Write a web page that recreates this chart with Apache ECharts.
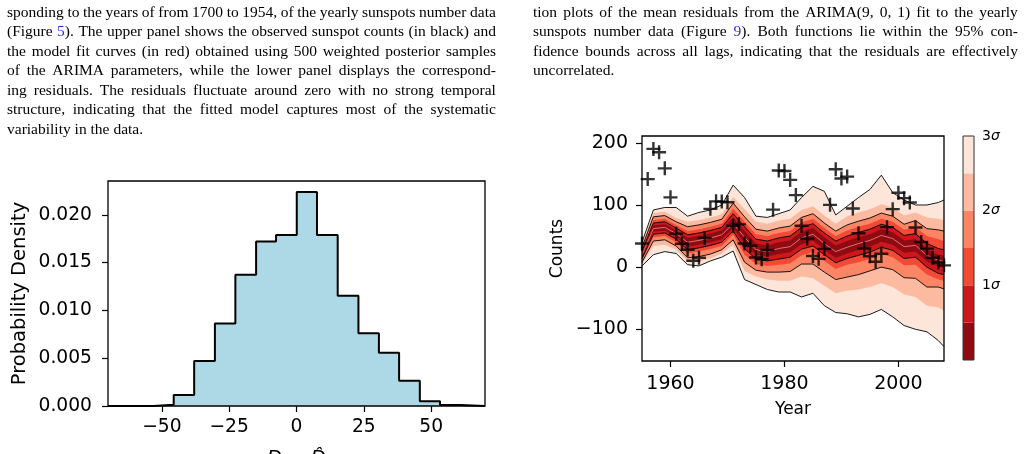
<!DOCTYPE html>
<html>
<head>
<meta charset="utf-8">
<script src="https://cdn.jsdelivr.net/npm/echarts@6.0.0/dist/echarts.min.js"></script>
<style>
  html, body { margin: 0; padding: 0; background: #fff; }
  #page { position: relative; width: 1025px; height: 454px; overflow: hidden; }
  #chart { position: absolute; left: 0; top: 0; width: 1025px; height: 454px; }
  .col { position: absolute; top: 1.5px; font-family: "Liberation Serif", serif; font-size: 15.5px; line-height: 19.5px; color: #000; }
  .ln { display: flex; justify-content: space-between; white-space: nowrap; }
  .ln.last { justify-content: flex-start; gap: 3.9px; }
  .ref { color: #2b2bd6; }
</style>
</head>
<body>
<div id="page">
  <div id="chart"></div>
  <div class="col" id="leftText" style="left:7px;width:489px;"></div>
  <div class="col" id="rightText" style="left:533px;width:485px;"></div>
</div>
<script>
// paragraph lines, as they break on the page
const leftLines = [
  "sponding to the years of from 1700 to 1954, of the yearly sunspots number data",
  "(Figure [5]). The upper panel shows the observed sunspot counts (in black) and",
  "the model fit curves (in red) obtained using 500 weighted posterior samples",
  "of the ARIMA parameters, while the lower panel displays the correspond-",
  "ing residuals. The residuals fluctuate around zero with no strong temporal",
  "structure, indicating that the fitted model captures most of the systematic",
  "variability in the data.",
];
const rightLines = [
  "tion plots of the mean residuals from the ARIMA(9, 0, 1) fit to the yearly",
  "sunspots number data (Figure [9]). Both functions lie within the 95% con-",
  "fidence bounds across all lags, indicating that the residuals are effectively",
  "uncorrelated.",
];

// histogram of residuals
const histEdges = [-53.2, -45.6, -38.0, -30.3, -22.7, -15.0, -7.6, 0.1, 7.6, 15.3, 23.0, 30.6, 38.1, 45.8, 53.3, 61.0];
const histDensity = [0.00014, 0.00115, 0.00471, 0.00862, 0.01372, 0.01721, 0.01787, 0.02237, 0.01787, 0.01152, 0.00761, 0.00558, 0.00265, 0.00049, 0.0001];
const histTicksX = [-50, -25, 0, 25, 50];
const histTicksY = [0, 0.005, 0.01, 0.015, 0.02];

// observed yearly sunspot numbers
const obsYears = [1955, 1956, 1957, 1958, 1959, 1960, 1961, 1962, 1963, 1964, 1965, 1966, 1967, 1968, 1969, 1970, 1971, 1972, 1973, 1974, 1975, 1976, 1977, 1978, 1979, 1980, 1981, 1982, 1983, 1984, 1985, 1986, 1987, 1988, 1989, 1990, 1991, 1992, 1993, 1994, 1995, 1996, 1997, 1998, 1999, 2000, 2001, 2002, 2003, 2004, 2005, 2006, 2007, 2008];
const obsCounts = [38.0, 141.7, 190.2, 184.8, 159.0, 112.3, 53.9, 37.6, 27.9, 10.2, 15.1, 47.0, 93.8, 105.9, 105.5, 104.5, 66.6, 68.9, 38.0, 34.5, 15.5, 12.6, 27.5, 92.5, 155.4, 154.6, 140.4, 115.9, 66.6, 45.9, 17.9, 13.4, 29.4, 100.2, 157.6, 142.6, 145.7, 94.3, 54.6, 29.9, 17.5, 8.6, 21.5, 64.3, 93.3, 119.6, 111.0, 104.0, 63.7, 40.4, 29.8, 15.2, 7.5, 2.9];

// posterior fit bands (0.5 sigma steps)
const bandYears = [1955, 1957, 1959, 1961, 1963, 1965, 1967, 1969, 1971, 1973, 1975, 1977, 1979, 1981, 1983, 1985, 1987, 1989, 1991, 1993, 1995, 1997, 1999, 2001, 2003, 2005, 2007, 2008];
const fitMedian = [20, 62, 64, 54, 40, 43, 47, 52, 70, 48, 28, 25, 30, 33, 47, 53, 38, 25, 32, 38, 43, 51, 46, 33, 35, 19, 11, 9];
const up05 = [23, 67, 69, 59, 47, 50, 54, 59, 80, 58, 38, 35, 40, 43, 57, 63, 48, 35, 42, 48, 53, 61, 56, 43, 45, 29, 20, 19];
const up10 = [26, 71, 73, 63, 52, 55, 59, 64, 86, 65, 45, 42, 47, 50, 64, 70, 55, 42, 50, 56, 61, 69, 64, 51, 54, 38, 30, 28];
const up15 = [29, 76, 78, 68, 58, 61, 65, 70, 94, 73, 53, 50, 55, 58, 72, 78, 63, 50, 59, 65, 70, 78, 73, 60, 64, 50, 45, 42];
const up20 = [32, 81, 83, 73, 65, 68, 72, 77, 103, 81, 61, 58, 63, 66, 80, 86, 71, 58, 68, 74, 79, 87, 82, 69, 75, 62, 60, 58];
const up25 = [35, 87, 89, 79, 73, 76, 80, 85, 113, 93, 73, 70, 75, 78, 92, 98, 83, 70, 82, 88, 93, 101, 96, 83, 88, 80, 78, 76];
const up30 = [40, 92, 96, 96, 82, 88, 92, 100, 132, 112, 82, 80, 86, 92, 112, 130, 122, 84, 98, 112, 125, 148, 120, 108, 100, 100, 104, 108];
const lo05 = [17, 57, 59, 49, 33, 36, 40, 45, 63, 38, 20, 17, 21, 24, 37, 43, 28, 15, 22, 28, 33, 41, 36, 23, 25, 9, 1, -1];
const lo10 = [14, 53, 55, 45, 28, 31, 35, 40, 58, 30, 13, 10, 13, 16, 29, 34, 20, 7, 14, 19, 24, 32, 27, 14, 16, 0, -10, -12];
const lo15 = [11, 48, 50, 40, 22, 25, 29, 34, 52, 20, 5, 2, 4, 6, 19, 24, 10, -3, 4, 8, 13, 21, 16, 3, 4, -12, -20, -22];
const lo20 = [8, 42, 44, 34, 15, 17, 21, 28, 44, 8, -5, -8, -8, -7, 5, 5, -8, -20, -16, -12, -6, 0, -4, -17, -18, -32, -32, -35];
const lo25 = [5, 34, 36, 28, 9, 9, 14, 22, 36, -6, -15, -20, -22, -22, -15, -18, -30, -42, -38, -36, -32, -26, -32, -44, -48, -62, -65, -70];
const lo30 = [2, 20, 25, 22, 4, 2, 10, 16, 26, -20, -28, -36, -40, -40, -48, -42, -62, -73, -75, -80, -76, -68, -80, -94, -100, -104, -118, -128];

const fitTicksX = [1960, 1980, 2000];
const fitTicksY = [-100, 0, 100, 200];
const sigmaTicks = [1, 2, 3];

// Reds, darkest (0-0.5 sigma) to lightest (2.5-3 sigma)
const sigmaColors = ["#900a12", "#cb181d", "#f34a36", "#fc8565", "#fcbba1", "#fee5da"];

function renderColumn(el, lines) {
  lines.forEach((line, i) => {
    const row = document.createElement("div");
    row.className = i === lines.length - 1 ? "ln last" : "ln";
    line.split(" ").forEach((word) => {
      const span = document.createElement("span");
      span.innerHTML = word.replace(/\[(\d)\]/, '<span class="ref">$1</span>');
      row.appendChild(span);
    });
    el.appendChild(row);
  });
}
renderColumn(document.getElementById("leftText"), leftLines);
renderColumn(document.getElementById("rightText"), rightLines);

const font = "DejaVu Sans";
const minusSign = (v) => String(v).replace("-", "\u2212");
const plusSymbol = "path://M8.3,0H11.7V8.3H20V11.7H11.7V20H8.3V11.7H0V8.3H8.3Z";

const histPoints = [[-70, 0]];
histEdges.forEach((e, i) => histPoints.push([e, i < histDensity.length ? histDensity[i] : 0]));
histPoints.push([70, 0]);

// each boundary fills down to the axis bottom; later layers paint over earlier ones
const layers = [
  [up30, 5], [up25, 4], [up20, 3], [up15, 2], [up10, 1], [up05, 0],
  [lo05, 1], [lo10, 2], [lo15, 3], [lo20, 4], [lo25, 5], [lo30, -1],
];
const bandSeries = layers.map(([values, k]) => ({
  type: "line", xAxisIndex: 1, yAxisIndex: 1, symbol: "none", silent: true, z: 2,
  lineStyle: { width: 0, opacity: 0 },
  areaStyle: { color: k < 0 ? "#ffffff" : sigmaColors[k], opacity: 1, origin: "start" },
  data: bandYears.map((y, j) => [y, values[j]]),
}));

function contourLine(values, color, width) {
  return {
    type: "line", xAxisIndex: 1, yAxisIndex: 1, symbol: "none", silent: true, z: 3,
    lineStyle: { color: color, width: width },
    data: bandYears.map((y, k) => [y, values[k]]),
  };
}

const tickLabel = { color: "#000", fontFamily: font };
const hiddenLine = { show: false, onZero: false };

const chart = echarts.init(document.getElementById("chart"), null, { renderer: "canvas" });
chart.setOption({
  animation: false,
  backgroundColor: "transparent",
  grid: [
    { left: 108, top: 181, width: 377, height: 225, outerBoundsMode: "none", show: true, borderColor: "#000", borderWidth: 1.3, z: 10 },
    { left: 642, top: 136, width: 302, height: 225, outerBoundsMode: "none", show: true, borderColor: "#000", borderWidth: 1.3, z: 10 },
    { left: 963, top: 136, width: 11, height: 224, outerBoundsMode: "none", show: true, borderColor: "#333", borderWidth: 1, z: 10 },
  ],
  xAxis: [
    {
      gridIndex: 0, type: "value", min: -70, max: 70,
      axisLine: hiddenLine, splitLine: { show: false },
      axisTick: { customValues: histTicksX, length: 6, lineStyle: { color: "#000", width: 1.2 } },
      axisLabel: { ...tickLabel, customValues: histTicksX, fontSize: 18.7, margin: 12, formatter: minusSign },
      name: "D \u2212 D\u0302", nameLocation: "middle", nameGap: 43,
      nameTextStyle: { color: "#000", fontFamily: font, fontSize: 19.5, fontStyle: "italic" },
    },
    {
      gridIndex: 1, type: "value", min: 1955, max: 2008,
      axisLine: hiddenLine, splitLine: { show: false },
      axisTick: { customValues: fitTicksX, length: 6, lineStyle: { color: "#000", width: 1.2 } },
      axisLabel: { ...tickLabel, customValues: fitTicksX, fontSize: 19, margin: 14, formatter: (v) => String(v) },
      name: "Year", nameLocation: "middle", nameGap: 40,
      nameTextStyle: { color: "#000", fontFamily: font, fontSize: 17 },
    },
    {
      gridIndex: 2, type: "category", data: [""], show: false,
    },
  ],
  yAxis: [
    {
      gridIndex: 0, type: "value", min: 0, max: 0.02353,
      axisLine: hiddenLine, splitLine: { show: false },
      axisTick: { customValues: histTicksY, length: 6, lineStyle: { color: "#000", width: 1.2 } },
      axisLabel: { ...tickLabel, customValues: histTicksY, fontSize: 18.7, margin: 16, formatter: (v) => v.toFixed(3) },
      name: "Probability Density", nameLocation: "middle", nameGap: 78,
      nameTextStyle: { color: "#000", fontFamily: font, fontSize: 19.5 },
    },
    {
      gridIndex: 1, type: "value", min: -151, max: 211,
      axisLine: hiddenLine, splitLine: { show: false },
      axisTick: { customValues: fitTicksY, length: 6, lineStyle: { color: "#000", width: 1.2 } },
      axisLabel: { ...tickLabel, customValues: fitTicksY, fontSize: 19, margin: 14, formatter: minusSign },
      name: "Counts", nameLocation: "middle", nameGap: 76,
      nameTextStyle: { color: "#000", fontFamily: font, fontSize: 17 },
    },
    {
      gridIndex: 2, type: "value", min: 0, max: 3, position: "right",
      axisLine: hiddenLine, splitLine: { show: false },
      axisTick: { customValues: sigmaTicks, inside: true, length: 6, lineStyle: { color: "#000", width: 1.2 } },
      axisLabel: {
        ...tickLabel, customValues: sigmaTicks, fontSize: 14, margin: 8,
        formatter: (v) => v + "{s|\u03c3}",
        rich: { s: { fontFamily: font, fontSize: 14, fontStyle: "italic", color: "#000" } },
      },
    },
  ],
  series: [
    {
      type: "line", xAxisIndex: 0, yAxisIndex: 0, step: "end", symbol: "none", silent: true,
      lineStyle: { color: "#000", width: 2 },
      areaStyle: { color: "#add8e6", opacity: 1 },
      data: histPoints,
    },
    ...bandSeries,
    contourLine(fitMedian, "#f08a8a", 0.8),
    contourLine(lo10, "#000", 0.9),
    contourLine(up10, "#000", 0.9),
    contourLine(lo20, "#000", 0.9),
    contourLine(up20, "#000", 0.9),
    contourLine(lo30, "#000", 0.9),
    contourLine(up30, "#000", 0.9),
    {
      type: "scatter", xAxisIndex: 1, yAxisIndex: 1, symbol: plusSymbol, symbolSize: 14, z: 5,
      itemStyle: { color: "#000" },
      data: obsYears.map((y, k) => [y, obsCounts[k]]),
    },
    ...sigmaColors.map((c) => ({
      type: "bar", xAxisIndex: 2, yAxisIndex: 2, stack: "cbar", barWidth: "100%", silent: true,
      itemStyle: { color: c },
      data: [0.5],
    })),
  ],
});
</script>
</body>
</html>
